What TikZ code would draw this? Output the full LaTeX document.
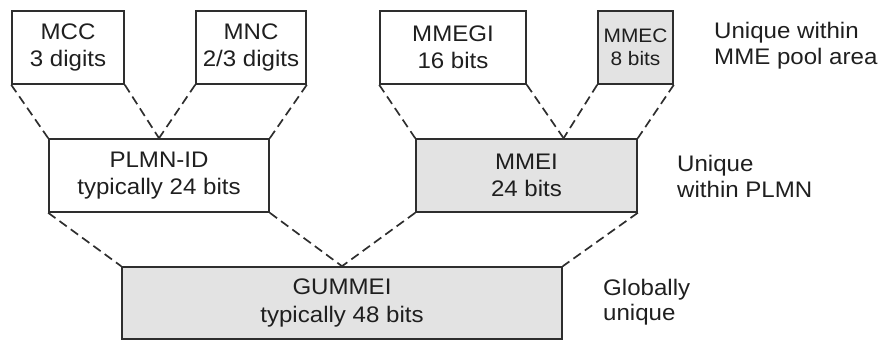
\documentclass[tikz,border=0pt]{standalone}
\usepackage{fontspec}
\setmainfont[FakeStretch=1.07]{Liberation Sans}
\usetikzlibrary{calc}

\begin{document}
\begin{tikzpicture}[x=1pt,y=-1pt,
  idbox/.style={draw=black!82, line width=1.6pt, inner sep=0pt, align=center,
    text=black!88, font=\fontsize{22.5}{27.5}\selectfont},
  shaded/.style={fill=black!11},
  link/.style={draw=black!82, line width=1.7pt, dash pattern=on 9pt off 5pt},
  note/.style={anchor=west, align=left, inner sep=0pt, text=black!88,
    font=\fontsize{22.5}{25.5}\selectfont}]
\useasboundingbox (0,0) rectangle (884,340);

% top row: the individual fields
\node[idbox, minimum width=112, minimum height=73] (mcc) at (68,47.5) {MCC\\3 digits};
\node[idbox, minimum width=110, minimum height=73] (mnc) at (251,47.5) {MNC\\2/3 digits};
\node[idbox, minimum width=146, minimum height=73] (mmegi) at (453,47.5) {MMEGI\\16 bits};
\node[idbox, shaded, minimum width=75, minimum height=73,
  font=\fontsize{19.5}{23}\selectfont] (mmec) at (635.5,47.5) {MMEC\\8 bits};

% middle row: composed identities
\node[idbox, minimum width=220, minimum height=73] (plmn) at (159,175.5) {PLMN-ID\\typically 24 bits};
\node[idbox, shaded, minimum width=221, minimum height=73] (mmei) at (526.5,175.5) {MMEI\\24 bits};

% bottom row: the globally unique identifier
\node[idbox, shaded, minimum width=440, minimum height=72] (gummei) at (342,303) {GUMMEI\\typically 48 bits};

% points where the parts meet on the upper edge
\coordinate (plmnsplit) at (plmn.north);
\coordinate (mmeisplit) at ($(mmei.north west)!2/3!(mmei.north east)$);
\coordinate (gumsplit) at (gummei.north);

% dashed fans from each part into its container
\draw[link] (mcc.south west) -- (plmn.north west);
\draw[link] (mcc.south east) -- (plmnsplit);
\draw[link] (mnc.south west) -- (plmnsplit);
\draw[link] (mnc.south east) -- (plmn.north east);

\draw[link] (mmegi.south west) -- (mmei.north west);
\draw[link] (mmegi.south east) -- (mmeisplit);
\draw[link] (mmec.south west) -- (mmeisplit);
\draw[link] (mmec.south east) -- (mmei.north east);

\draw[link] (plmn.south west) -- (gummei.north west);
\draw[link] (plmn.south east) -- (gumsplit);
\draw[link] (mmei.south west) -- (gumsplit);
\draw[link] (mmei.south east) -- (gummei.north east);

% scope notes
\node[note] (poolnote) at (714,45.5) {Unique within\\MME pool area};
\node[note] (plmnnote) at (677,176.5) {Unique\\within PLMN};
\node[note] (globnote) at (603,302) {Globally\\unique};
\end{tikzpicture}
\end{document}
